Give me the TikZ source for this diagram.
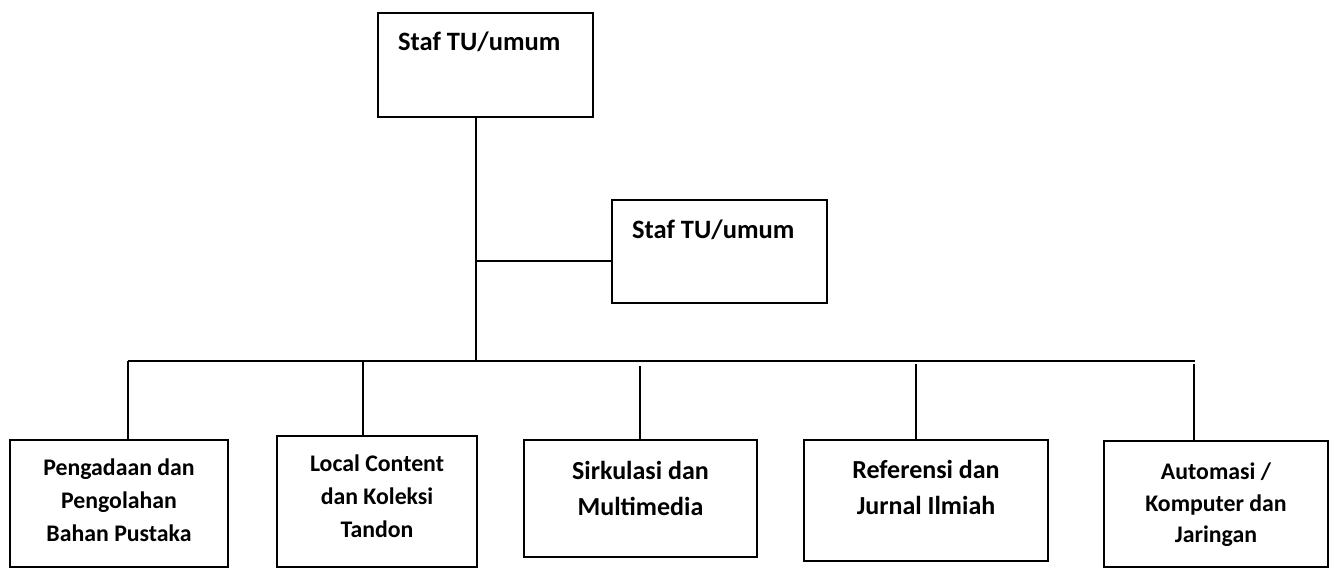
\documentclass[tikz,border=0pt]{standalone}
\usepackage{fontspec}
\setmainfont{Carlito}
\begin{document}
\begin{tikzpicture}[x=1pt,y=-1pt,
  box/.style={draw,line width=1.5pt,rectangle,inner sep=0pt},
  txt/.style={inner sep=0pt,align=center,font=\bfseries},
  big/.style={font=\fontsize{26.5}{32}\selectfont\bfseries},
  mid/.style={font=\fontsize{26}{36}\selectfont\bfseries},
  small/.style={font=\fontsize{23.8}{33}\selectfont\bfseries},
  smallb/.style={font=\fontsize{23.8}{31.5}\selectfont\bfseries},
  conn/.style={line width=1.5pt}]
\useasboundingbox (0,0) rectangle (1333,568);
% boxes
\node[box,minimum width=215pt,minimum height=104pt] (A) at (485.5,65) {};
\node[box,minimum width=215pt,minimum height=103pt] (B) at (719.5,251.5) {};
\node[box,minimum width=218pt,minimum height=127pt] (C1) at (119,503.5) {};
\node[box,minimum width=200pt,minimum height=131pt] (C2) at (377,501.5) {};
\node[box,minimum width=233pt,minimum height=117pt] (C3) at (640.5,498.5) {};
\node[box,minimum width=244pt,minimum height=121pt] (C4) at (926,500.5) {};
\node[box,minimum width=224pt,minimum height=126pt] (C5) at (1216,504) {};
% texts
\node[txt,big,anchor=west] (tA) at (398,42) {Staf TU/umum};
\node[txt,big,anchor=west] (tB) at (632,230) {Staf TU/umum};
\node[txt,small] (t1) at (119,500) {Pengadaan dan\\Pengolahan\\Bahan Pustaka};
\node[txt,small] (t2) at (377,496) {Local Content\\dan Koleksi\\Tandon};
\node[txt,mid] (t3) at (640.5,488) {Sirkulasi dan\\Multimedia};
\node[txt,mid] (t4) at (926,487.5) {Referensi dan\\Jurnal Ilmiah};
\node[txt,smallb] (t5) at (1216,505) {Automasi /\\Komputer dan\\Jaringan};
% connector points
\coordinate (trunk) at (476,361);
\coordinate (bj) at (476,261);
\coordinate (barL) at (128,361);
\coordinate (barR) at (1195,361);
\coordinate (d2) at (363,361);
\coordinate (d3) at (640,366);
\coordinate (d4) at (916,364);
\coordinate (d5) at (1194,364);
% connectors
\draw[conn] (A.south -| trunk) -- (trunk);
\draw[conn] (bj) -- (bj -| B.west);
\draw[conn] (barL) -- (barR);
\draw[conn] (barL) -- (barL |- C1.north);
\draw[conn] (d2) -- (d2 |- C2.north);
\draw[conn] (d3) -- (d3 |- C3.north);
\draw[conn] (d4) -- (d4 |- C4.north);
\draw[conn] (d5) -- (d5 |- C5.north);
\end{tikzpicture}
\end{document}
